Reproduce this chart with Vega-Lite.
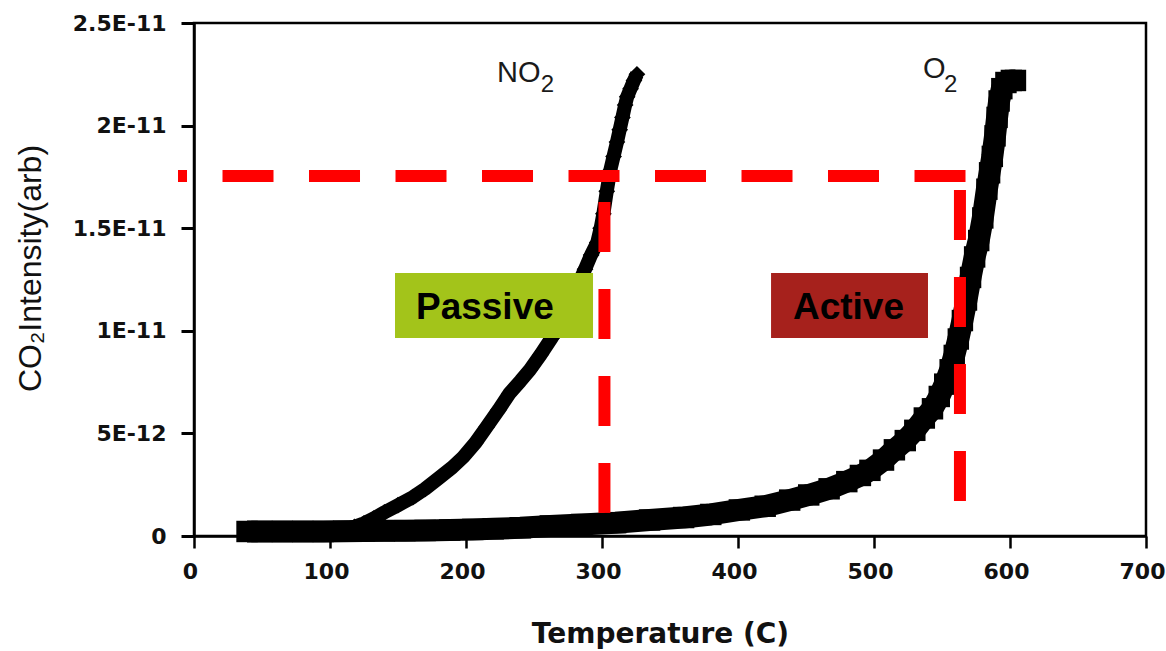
{
  "$schema": "https://vega.github.io/schema/vega-lite/v6.json",
  "width": 952,
  "height": 513,
  "autosize": "none",
  "padding": {"left": 194, "top": 23, "right": 20, "bottom": 115},
  "background": "white",
  "config": {"view": {"stroke": "black", "strokeWidth": 2.5}},
  "datasets": {
    "no2": [
      {"T": 38, "v": 0.25e-12}, {"T": 50, "v": 0.25e-12}, {"T": 60, "v": 0.25e-12}, {"T": 70, "v": 0.25e-12},
      {"T": 80, "v": 0.25e-12}, {"T": 90, "v": 0.25e-12}, {"T": 100, "v": 0.28e-12}, {"T": 110, "v": 0.32e-12},
      {"T": 118, "v": 0.45e-12}, {"T": 125, "v": 0.62e-12}, {"T": 132, "v": 0.85e-12}, {"T": 140, "v": 1.15e-12},
      {"T": 150, "v": 1.5e-12}, {"T": 161, "v": 1.9e-12}, {"T": 170, "v": 2.3e-12}, {"T": 181, "v": 2.88e-12},
      {"T": 190, "v": 3.35e-12}, {"T": 198, "v": 3.85e-12}, {"T": 207, "v": 4.55e-12}, {"T": 215, "v": 5.3e-12},
      {"T": 224, "v": 6.15e-12}, {"T": 232, "v": 6.95e-12}, {"T": 240, "v": 7.55e-12}, {"T": 247, "v": 8.1e-12},
      {"T": 255, "v": 8.85e-12}, {"T": 263, "v": 9.65e-12}, {"T": 270, "v": 10.5e-12}, {"T": 276, "v": 11.4e-12},
      {"T": 282, "v": 12.2e-12}, {"T": 287.5, "v": 13.0e-12}, {"T": 292, "v": 13.7e-12}, {"T": 296.5, "v": 14.3e-12},
      {"T": 299, "v": 15.0e-12}, {"T": 301, "v": 15.7e-12}, {"T": 303.5, "v": 16.8e-12}, {"T": 306, "v": 17.8e-12},
      {"T": 308.5, "v": 18.5e-12}, {"T": 311, "v": 19.2e-12}, {"T": 313, "v": 19.8e-12}, {"T": 315, "v": 20.4e-12},
      {"T": 317, "v": 21.0e-12}, {"T": 318.5, "v": 21.4e-12}, {"T": 321, "v": 21.8e-12}, {"T": 323.5, "v": 22.2e-12},
      {"T": 325.7, "v": 22.5e-12}
    ],
    "o2": [
      {"T": 39, "v": 0.22e-12}, {"T": 50, "v": 0.22e-12}, {"T": 65, "v": 0.22e-12}, {"T": 80, "v": 0.22e-12},
      {"T": 95, "v": 0.22e-12}, {"T": 110, "v": 0.23e-12}, {"T": 125, "v": 0.24e-12}, {"T": 140, "v": 0.25e-12},
      {"T": 155, "v": 0.26e-12}, {"T": 170, "v": 0.27e-12}, {"T": 188, "v": 0.29e-12}, {"T": 205, "v": 0.32e-12},
      {"T": 220, "v": 0.35e-12}, {"T": 240, "v": 0.4e-12}, {"T": 262, "v": 0.49e-12}, {"T": 285, "v": 0.56e-12},
      {"T": 310, "v": 0.65e-12}, {"T": 335, "v": 0.78e-12}, {"T": 360, "v": 0.9e-12}, {"T": 380, "v": 1.05e-12},
      {"T": 401, "v": 1.27e-12}, {"T": 420, "v": 1.45e-12}, {"T": 438, "v": 1.75e-12}, {"T": 452, "v": 2.0e-12},
      {"T": 467, "v": 2.3e-12}, {"T": 480, "v": 2.65e-12}, {"T": 490, "v": 2.95e-12}, {"T": 497, "v": 3.2e-12},
      {"T": 507, "v": 3.7e-12}, {"T": 515, "v": 4.2e-12}, {"T": 523, "v": 4.65e-12}, {"T": 530, "v": 5.15e-12},
      {"T": 537, "v": 5.75e-12}, {"T": 543, "v": 6.2e-12}, {"T": 548, "v": 6.8e-12}, {"T": 552, "v": 7.4e-12},
      {"T": 556, "v": 8.1e-12}, {"T": 559, "v": 8.8e-12}, {"T": 562, "v": 9.6e-12}, {"T": 565, "v": 10.5e-12},
      {"T": 568, "v": 11.5e-12}, {"T": 571, "v": 12.6e-12}, {"T": 574, "v": 13.6e-12}, {"T": 577, "v": 14.4e-12},
      {"T": 580, "v": 15.5e-12}, {"T": 583, "v": 16.9e-12}, {"T": 585, "v": 17.7e-12}, {"T": 587, "v": 18.5e-12},
      {"T": 589, "v": 19.5e-12}, {"T": 590.5, "v": 20.4e-12}, {"T": 592, "v": 21.2e-12}, {"T": 594, "v": 21.8e-12},
      {"T": 597, "v": 22.1e-12}, {"T": 601, "v": 22.2e-12}, {"T": 604, "v": 22.2e-12}
    ],
    "boxes": [
      {"name": "Passive", "T": 147.8, "T2": 293.4, "v": 12.82e-12, "v2": 9.65e-12},
      {"name": "Active", "T": 424.3, "T2": 539.7, "v": 12.82e-12, "v2": 9.65e-12}
    ],
    "boxlabels": [
      {"label": "Passive", "T": 163.2, "v": 10.575e-12},
      {"label": "Active", "T": 440.4, "v": 10.575e-12}
    ],
    "hline": [{"T": -11.76, "T2": 568.4, "v": 17.544e-12}],
    "vlines": [
      {"T": 301.8, "v": 16.28e-12, "v2": 1.12e-12},
      {"T": 563.2, "v": 16.86e-12, "v2": 1.12e-12}
    ],
    "gaslabels": [
      {"label": "NO", "T": 222.8, "v": 22.12e-12},
      {"label": "O", "T": 536.0, "v": 22.32e-12}
    ],
    "subs": [
      {"label": "2", "T": 255.0, "v": 21.64e-12},
      {"label": "2", "T": 551.5, "v": 21.64e-12}
    ]
  },
  "encoding": {
    "x": {
      "field": "T",
      "type": "quantitative",
      "scale": {"domain": [0, 700], "nice": false, "zero": false},
      "axis": {
        "title": "Temperature (C)",
        "values": [0, 100, 200, 300, 400, 500, 600, 700],
        "grid": false,
        "domainColor": "black",
        "domainWidth": 2.5,
        "tickColor": "black",
        "tickWidth": 2.5,
        "tickSize": 12,
        "labelFont": "DejaVu Sans",
        "labelFontWeight": "bold",
        "labelFontSize": 22,
        "labelColor": "#111111",
        "labelPadding": 13,
        "labelOffset": -4,
        "labelFlush": false,
        "labelOverlap": false,
        "titleFont": "DejaVu Sans",
        "titleFontWeight": "bold",
        "titleFontSize": 28,
        "titleColor": "#111111",
        "titleX": 466,
        "titleY": 106,
        "titleBaseline": "alphabetic"
      }
    },
    "y": {
      "field": "v",
      "type": "quantitative",
      "scale": {"domain": [0, 2.5e-11], "nice": false, "zero": false},
      "axis": {
        "title": "CO₂Intensity(arb)",
        "values": [0, 5e-12, 1e-11, 1.5e-11, 2e-11, 2.5e-11],
        "labelExpr": "datum.value == 0 ? '0' : replace(format(datum.value, '.2~e'), 'e', 'E')",
        "grid": false,
        "domainColor": "black",
        "domainWidth": 2.5,
        "tickColor": "black",
        "tickWidth": 3,
        "tickSize": 13,
        "labelFont": "DejaVu Sans",
        "labelFontWeight": "bold",
        "labelFontSize": 22,
        "labelColor": "#111111",
        "labelPadding": 15,
        "labelOverlap": false,
        "titleFont": "Liberation Sans",
        "titleFontWeight": "normal",
        "titleFontSize": 32,
        "titleColor": "#111111",
        "titleAngle": -90,
        "titleX": -154,
        "titleY": 245,
        "titleAlign": "center",
        "titleBaseline": "alphabetic"
      }
    }
  },
  "layer": [
    {
      "data": {"name": "o2"},
      "mark": {"type": "line", "color": "black", "strokeWidth": 22, "strokeJoin": "round"},
      "encoding": {}
    },
    {
      "data": {"name": "o2"},
      "mark": {"type": "point", "shape": "square", "filled": true, "color": "black", "opacity": 1, "size": 460},
      "encoding": {}
    },
    {
      "data": {"name": "no2"},
      "mark": {"type": "line", "color": "black", "strokeWidth": 14, "strokeJoin": "round"},
      "encoding": {}
    },
    {
      "data": {"name": "no2"},
      "mark": {"type": "point", "shape": "diamond", "filled": true, "color": "black", "opacity": 1, "size": 280},
      "encoding": {}
    },
    {
      "data": {"name": "boxes"},
      "mark": {"type": "rect"},
      "encoding": {
        "x2": {"field": "T2"},
        "y2": {"field": "v2"},
        "color": {"field": "name", "type": "nominal", "scale": {"domain": ["Passive", "Active"], "range": ["#a3c41a", "#a6211c"]}, "legend": null}
      }
    },
    {
      "data": {"name": "hline"},
      "mark": {"type": "rule", "color": "#ff0000", "strokeWidth": 12, "strokeDash": [51, 35.5], "strokeDashOffset": 42, "strokeCap": "butt"},
      "encoding": {"x2": {"field": "T2"}}
    },
    {
      "data": {"name": "vlines"},
      "mark": {"type": "rule", "color": "#ff0000", "strokeWidth": 12, "strokeDash": [50, 37], "strokeCap": "butt"},
      "encoding": {"y2": {"field": "v2"}}
    },
    {
      "data": {"name": "boxlabels"},
      "mark": {"type": "text", "font": "Liberation Sans", "fontWeight": "bold", "fontSize": 37, "align": "left", "baseline": "alphabetic", "color": "black"},
      "encoding": {"text": {"field": "label"}}
    },
    {
      "data": {"name": "gaslabels"},
      "mark": {"type": "text", "font": "Liberation Sans", "fontSize": 29, "align": "left", "baseline": "alphabetic", "color": "#1a1a1a"},
      "encoding": {"text": {"field": "label"}}
    },
    {
      "data": {"name": "subs"},
      "mark": {"type": "text", "font": "Liberation Sans", "fontSize": 24, "align": "left", "baseline": "alphabetic", "color": "#1a1a1a"},
      "encoding": {"text": {"field": "label"}}
    }
  ]
}
